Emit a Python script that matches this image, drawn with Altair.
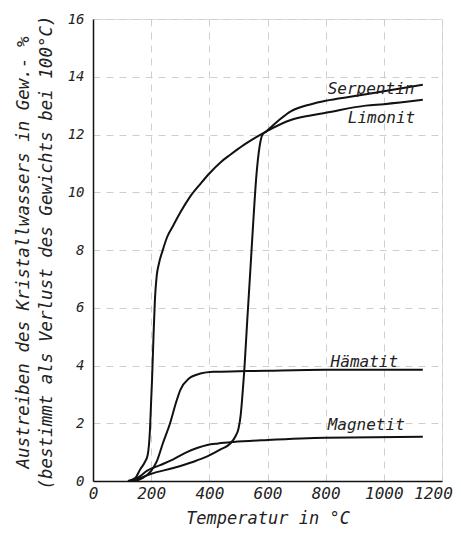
import altair as alt
import pandas as pd

# --- data ---
lim_x = [120, 145, 162, 178, 188, 196, 200, 203, 208, 213, 219, 226, 240, 255, 276, 300, 334, 370, 400, 440, 472, 520, 560, 595, 680, 748, 800, 938, 1000, 1134]
lim_y = [0, 0.1, 0.4, 0.65, 0.9, 1.8, 2.8, 3.5, 5.0, 6.3, 7.1, 7.5, 8.0, 8.45, 8.85, 9.3, 9.85, 10.3, 10.65, 11.05, 11.3, 11.65, 11.9, 12.1, 12.5, 12.66, 12.75, 13.0, 13.05, 13.2]

ser_x = [130, 160, 200, 276, 340, 393, 440, 472, 490, 500, 508, 514, 520, 530, 541, 550, 562, 573, 583, 595, 640, 680, 750, 800, 900, 1000, 1134]
ser_y = [0, 0.1, 0.25, 0.45, 0.65, 0.85, 1.1, 1.3, 1.55, 1.8, 2.3, 3.0, 3.8, 5.5, 7.3, 8.8, 10.6, 11.6, 12.0, 12.1, 12.5, 12.8, 13.05, 13.17, 13.33, 13.5, 13.72]

hae_x = [140, 170, 200, 220, 240, 265, 285, 300, 330, 369, 414, 500, 600, 800, 1134]
hae_y = [0, 0.1, 0.35, 0.7, 1.3, 2.0, 2.7, 3.15, 3.55, 3.72, 3.78, 3.8, 3.82, 3.85, 3.85]

mag_x = [130, 160, 185, 231, 276, 323, 360, 393, 430, 483, 600, 800, 1134]
mag_y = [0, 0.15, 0.35, 0.55, 0.75, 1.0, 1.15, 1.25, 1.3, 1.35, 1.42, 1.5, 1.53]

label_names = ["Serpentin", "Limonit", "Hämatit", "Magnetit"]
label_x = [807, 876, 817, 807]
label_y = [13.4, 12.4, 3.95, 1.76]

x_ticks = [0, 200, 400, 600, 800, 1000, 1200]
y_ticks = [0, 2, 4, 6, 8, 10, 12, 14, 16]

rows = []
for name, xs, ys in [("Limonit", lim_x, lim_y), ("Serpentin", ser_x, ser_y),
                     ("Hämatit", hae_x, hae_y), ("Magnetit", mag_x, mag_y)]:
    for i, (a, b) in enumerate(zip(xs, ys)):
        rows.append({"mineral": name, "t": a, "v": b, "i": i})
df = pd.DataFrame(rows)
labels = pd.DataFrame({"name": label_names, "t": label_x, "v": label_y})

FONT = "DejaVu Sans Mono"
GRID = "#cfcfcf"

x_enc = alt.X("t:Q", scale=alt.Scale(domain=[0, 1200], nice=False),
              axis=alt.Axis(values=x_ticks, format="d", title="Temperatur in °C", labelFont=FONT,
                            labelFontStyle="italic", labelFontSize=16, labelPadding=4,
                            labelColor="#222", ticks=False, titleFont=FONT,
                            titleFontStyle="italic", titleFontSize=17, titleFontWeight="normal",
                            titleColor="#222", titlePadding=9, domainColor="#111",
                            domainWidth=1.5, gridColor=GRID, gridDash=[7, 6],
                            labelFlush=False,
                            labelOffset={"condition": {"test": "datum.value == 1200", "value": -9},
                                         "value": 0}))
y_enc = alt.Y("v:Q", scale=alt.Scale(domain=[0, 16], nice=False),
              axis=alt.Axis(values=y_ticks, format="d",
                            title=["Austreiben des Kristallwassers in Gew.- %",
                                   "(bestimmt als Verlust des Gewichts bei 100°C)"],
                            labelFont=FONT, labelFontStyle="italic", labelFontSize=14,
                            labelPadding=9, labelColor="#222", ticks=False,
                            titleFont=FONT, titleFontStyle="italic", titleFontSize=17.5,
                            titleFontWeight="normal", titleColor="#222",
                            titleX=-70, titleY=233, titleAlign="center",
                            titleBaseline="middle", titleLineHeight=23, titleAngle=270,
                            domainColor="#111", domainWidth=1.5, gridColor=GRID,
                            gridDash=[7, 6]))

lines = alt.Chart(df).mark_line(color="#111", strokeWidth=2, interpolate="monotone").encode(
    x=x_enc, y=y_enc, detail="mineral:N", order="i:Q")

texts = alt.Chart(labels).mark_text(font=FONT, fontStyle="italic", fontSize=16, color="#222",
                                    align="left", baseline="alphabetic").encode(
    x="t:Q", y="v:Q", text="name:N")

chart = alt.layer(lines, texts).properties(
    width=349, height=462,
    autosize=alt.AutoSizeParams(type="none"),
    padding={"left": 85, "top": 11, "right": 11, "bottom": 48},
).configure_view(stroke="#aaaaaa", strokeWidth=1).configure(background="white")

chart.save("out.html", embed_options={"renderer": "svg", "actions": False})
